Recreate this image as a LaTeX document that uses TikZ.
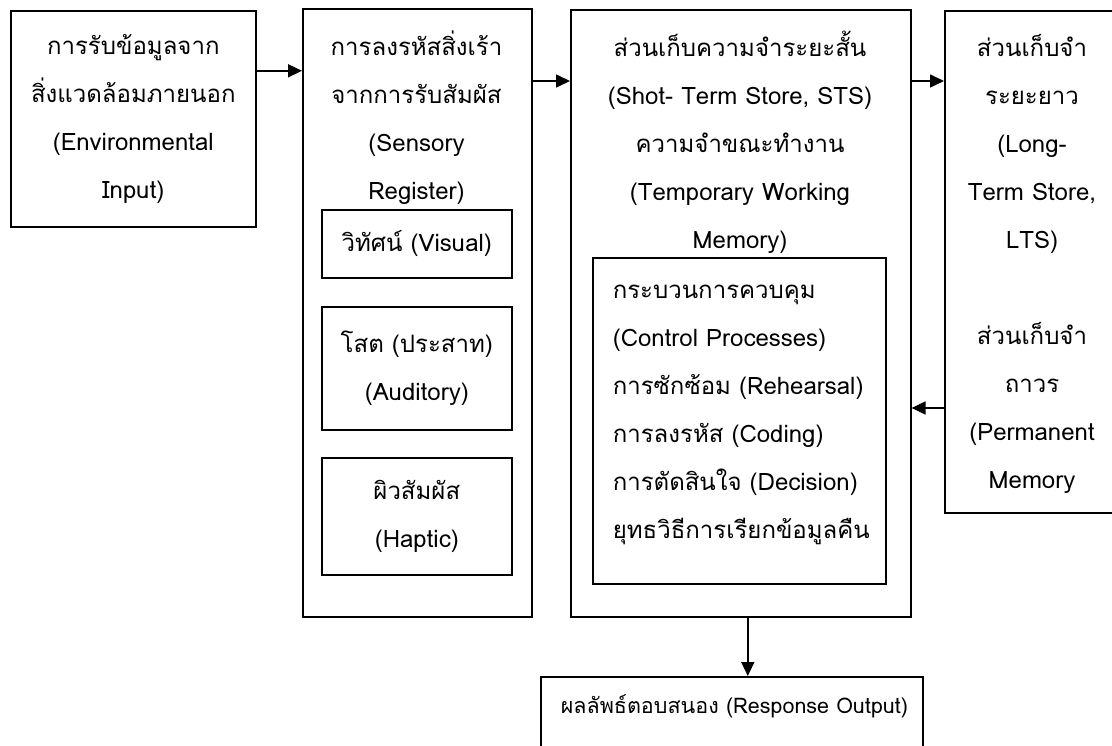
\documentclass[tikz,border=0pt]{standalone}
\usepackage{fontspec}
\newfontfamily\thaifont[Script=Thai]{Loma}
\usetikzlibrary{positioning,arrows.meta}

\tikzset{
  stage/.style={draw, line width=1.6pt, inner sep=0pt, anchor=north west},
  txt/.style={font=\thaifont\fontsize{24}{48}\selectfont, align=center, inner sep=0pt},
}

\begin{document}
\begin{tikzpicture}[x=1pt,y=-1pt,>={Triangle[length=14pt,width=13pt]}, line width=1.6pt]
		\useasboundingbox (0,0) rectangle (1112,746);
		\clip (0,0) rectangle (1112,746);
		% environmental input
		\node[stage, txt, minimum width=245pt, minimum height=216pt] (env) at (10,10)
			{การรับข้อมูลจาก\\สิ่งแวดล้อมภายนอก\\(Environmental\\Input)};
		% sensory register with its three channels
		\node[stage, minimum width=229pt, minimum height=608pt] (sens) at (302,8) {};
		\node[txt] (senstitle) at (416.5,118) {การลงรหัสสิ่งเร้า\\จากการรับสัมผัส\\(Sensory\\Register)};
		\node[stage, txt, minimum width=190pt, minimum height=68pt] (visual) at (321,209) {วิทัศน์ (Visual)};
		\node[stage, txt, minimum width=190pt, minimum height=123pt] (audio) at (321,306) {โสต (ประสาท)\\(Auditory)};
		\node[stage, txt, minimum width=190pt, minimum height=117pt] (haptic) at (321,457) {ผิวสัมผัส\\(Haptic)};
		% short-term store
		\node[stage, minimum width=340pt, minimum height=607pt] (sts) at (570,9) {};
		\node[txt] (ststitle) at (740,142) {ส่วนเก็บความจำระยะสั้น\\(Shot- Term Store, STS)\\ความจำขณะทำงาน\\(Temporary Working\\Memory)};
		\node[stage, minimum width=293pt, minimum height=326pt] (ctrl) at (592,257) {};
		\node[txt, align=left, anchor=west] (ctrltext) at (612,415) {กระบวนการควบคุม\\(Control Processes)\\การซักซ้อม (Rehearsal)\\การลงรหัส (Coding)\\การตัดสินใจ (Decision)\\ยุทธวิธีการเรียกข้อมูลคืน};
		% long-term store
		\node[stage, minimum width=176pt, minimum height=502pt] (lts) at (944,10) {};
		\node[txt] (ltstext) at (1032,264) {ส่วนเก็บจำ\\ระยะยาว\\(Long-\\Term Store,\\LTS)\\[48pt]ส่วนเก็บจำ\\ถาวร\\(Permanent\\Memory};
		% response output
		\node[stage, minimum width=382pt, minimum height=90pt] (resp) at (540,676) {};
		\node[txt, font=\thaifont\fontsize{21.5}{48}\selectfont, anchor=west] (resptext) at (560,706) {ผลลัพธ์ตอบสนอง (Response Output)};
		% connectors
		\coordinate (envout) at ([yshift=48pt]env.east);
		\coordinate (sensout) at ([yshift=-73pt]sens.north east);
		\coordinate (stsout) at ([yshift=-72pt]sts.north east);
		\coordinate (ltsback) at ([yshift=-398pt]lts.north west);
		\coordinate (stsdown) at ([xshift=7pt]sts.south);
		\draw[->] (envout) -- (envout -| sens.west);
		\draw[->] (sensout) -- (sensout -| sts.west);
		\draw[->] (stsout) -- (stsout -| lts.west);
		\draw[->] (ltsback) -- (ltsback -| sts.east);
		\draw[->] (stsdown) -- (stsdown |- resp.north);
	\end{tikzpicture}
\end{document}
